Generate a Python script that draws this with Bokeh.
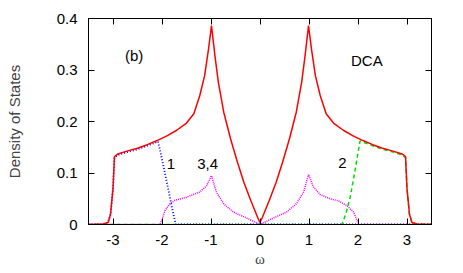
from bokeh.plotting import figure
from bokeh.models import LinearAxis, FixedTicker, Range1d
from bokeh.core.properties import value
from bokeh.embed import file_html
from bokeh.resources import INLINE

# ---- data ----
omega_total = [-3.5, -3.2, -3.1, -3.05, -3.0, -2.97, -2.9, -2.7, -2.5, -2.3, -2.1, -1.9, -1.7,
               -1.5, -1.35, -1.23, -1.13, -1.05, -0.99, -0.92, -0.85, -0.74, -0.6, -0.46,
               -0.33, -0.19, -0.05, 0.0, 0.05, 0.19, 0.33, 0.46, 0.6, 0.74, 0.85, 0.92, 0.99,
               1.05, 1.13, 1.23, 1.35, 1.5, 1.7, 1.9, 2.1, 2.3, 2.5, 2.7, 2.9, 2.97, 3.0,
               3.05, 3.1, 3.2, 3.5]
dos_total = [0.0, 0.001, 0.004, 0.02, 0.07, 0.132, 0.137, 0.143, 0.148, 0.155, 0.163, 0.172, 0.183,
             0.197, 0.215, 0.25, 0.289, 0.341, 0.386, 0.328, 0.276, 0.218, 0.166, 0.121,
             0.082, 0.047, 0.014, 0.004, 0.014, 0.047, 0.082, 0.121, 0.166, 0.218, 0.276, 0.328, 0.386,
             0.341, 0.289, 0.25, 0.215, 0.197, 0.183, 0.172, 0.163, 0.155, 0.148, 0.143, 0.137, 0.132, 0.07,
             0.02, 0.004, 0.001, 0.0]

omega_1 = [-3.5, -3.2, -3.1, -3.05, -3.0, -2.97, -2.9, -2.7, -2.5, -2.3, -2.08, -1.98, -1.88,
           -1.79, -1.72, -1.5, 0.0, 3.5]
dos_1 = [0.0, 0.001, 0.004, 0.02, 0.07, 0.130, 0.135, 0.141, 0.146, 0.153, 0.161, 0.118, 0.072,
         0.03, 0.0, 0.0, 0.0, 0.0]

omega_2 = [-3.5, 0.0, 1.5, 1.67, 1.75, 1.84, 1.94, 2.04, 2.3, 2.5, 2.7, 2.9, 2.97, 3.0, 3.05,
           3.1, 3.2, 3.5]
dos_2 = [0.0, 0.0, 0.0, 0.0, 0.02, 0.053, 0.105, 0.162, 0.153, 0.146, 0.141, 0.135, 0.130, 0.07, 0.02,
         0.004, 0.001, 0.0]

omega_34 = [-3.5, -2.04, -1.99, -1.94, -1.84, -1.74, -1.5, -1.23, -1.09, -0.99, -0.89, -0.74,
            -0.54, -0.26, 0.0, 0.26, 0.54, 0.74, 0.89, 0.99, 1.09, 1.23, 1.43, 1.6, 1.77, 1.91,
            1.98, 2.02, 3.5]
dos_34 = [0.0, 0.0, 0.012, 0.027, 0.040, 0.047, 0.053, 0.063, 0.075, 0.095, 0.063, 0.040,
          0.024, 0.012, 0.0, 0.012, 0.024, 0.040, 0.063, 0.097, 0.073, 0.058, 0.050, 0.046, 0.037, 0.024,
          0.008, 0.0, 0.0]

x_ticks = [-3, -2, -1, 0, 1, 2, 3]
x_tick_labels = ["-3", "-2", "-1", "0", "1", "2", "3"]
y_ticks = [0, 0.1, 0.2, 0.3, 0.4]
y_tick_labels = ["0", "0.1", "0.2", "0.3", "0.4"]

label_texts = ["(b)", "DCA", "1", "3,4", "2"]
label_x = [-2.57, 2.18, -1.82, -1.07, 1.68]
label_y = [0.328, 0.319, 0.118, 0.118, 0.119]

FONT = "Liberation Sans"

p = figure(frame_width=343, frame_height=206,
           min_border_left=88, min_border_right=30, min_border_top=18, min_border_bottom=46,
           x_range=Range1d(-3.5, 3.5), y_range=Range1d(0, 0.4),
           output_backend="svg", toolbar_location=None,
           background_fill_color="white", border_fill_color="white")
p.grid.visible = False
p.outline_line_color = "black"
p.outline_line_width = 1

def style_axis(ax, ticks, labels, show_labels=True, standoff=8):
    ax.ticker = FixedTicker(ticks=ticks)
    ax.major_tick_in = 6
    ax.major_tick_out = 0
    ax.minor_tick_in = 0
    ax.minor_tick_out = 0
    ax.axis_line_color = "black"
    ax.major_tick_line_color = "black"
    if show_labels:
        ax.major_label_overrides = {t: l for t, l in zip(ticks, labels)}
        ax.major_label_text_font = FONT
        ax.major_label_text_color = "black"
        ax.major_label_standoff = standoff
        ax.major_label_text_font_size = "15px"
    else:
        ax.major_label_text_color = None
        ax.major_label_text_font_size = "1px"
        ax.major_label_standoff = 0

style_axis(p.xaxis[0], x_ticks, x_tick_labels, True, 10)
style_axis(p.yaxis[0], y_ticks, y_tick_labels, True, 11)

p.xaxis[0].axis_label = "ω"
p.xaxis[0].axis_label_text_font = "Liberation Serif"
p.xaxis[0].axis_label_text_font_size = "15px"
p.xaxis[0].axis_label_text_font_style = "normal"
p.xaxis[0].axis_label_standoff = 3

p.yaxis[0].axis_label = "Density of States"
p.yaxis[0].axis_label_text_font = FONT
p.yaxis[0].axis_label_text_font_size = "15px"
p.yaxis[0].axis_label_text_font_style = "normal"
p.yaxis[0].axis_label_standoff = 31

top = LinearAxis()
right = LinearAxis()
style_axis(top, x_ticks, x_tick_labels, False)
style_axis(right, y_ticks, y_tick_labels, False)
p.add_layout(top, "above")
p.add_layout(right, "right")

p.line(omega_34, dos_34, line_color="#ff00ff", line_width=1.5, line_dash="1 1")
p.line(omega_2, dos_2, line_color="#00dd00", line_width=1.5, line_dash="4 3")
p.line(omega_1, dos_1, line_color="#0000ff", line_width=1.8, line_dash="1 2")
p.line(omega_total, dos_total, line_color="#ff0000", line_width=1.5)

p.text(x=label_x, y=label_y, text=label_texts, text_font=value(FONT), text_font_size="15px",
       text_align="center", text_baseline="middle", text_color="black")

open("out.html", "w").write(file_html(p, INLINE))
